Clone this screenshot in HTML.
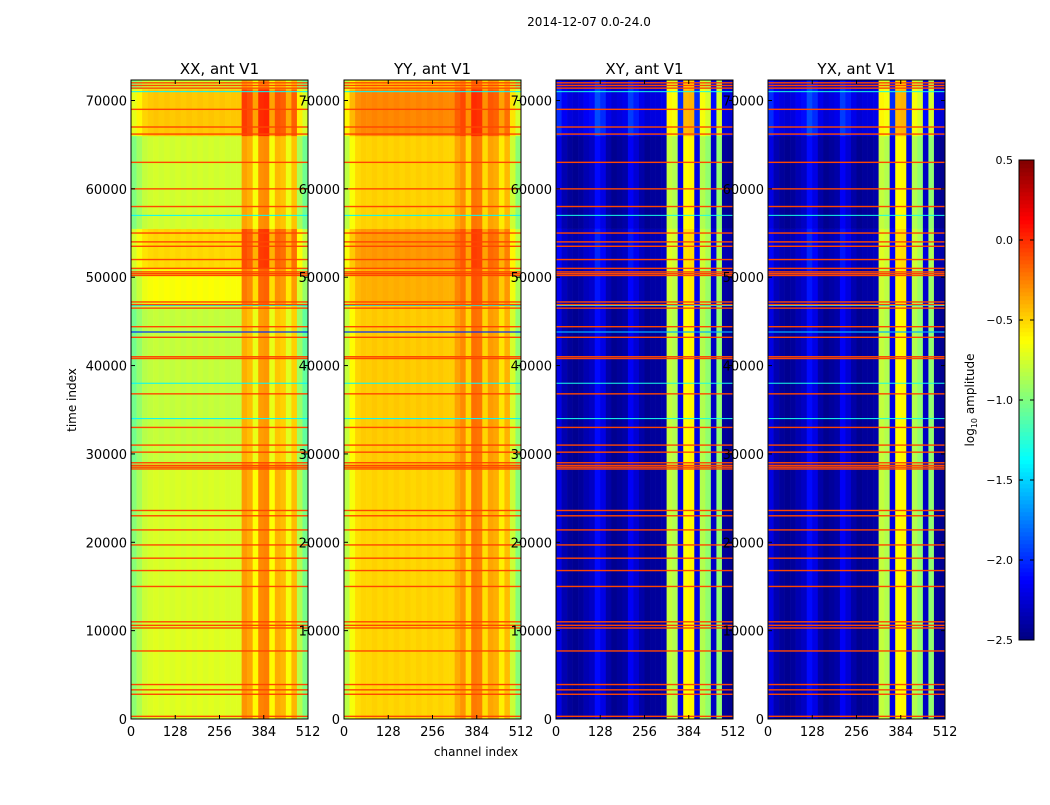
<!DOCTYPE html>
<html><head><meta charset="utf-8"><style>
body{margin:0;background:#fff;}
svg text{font-family:"DejaVu Sans","Liberation Sans",sans-serif;}
</style></head><body>
<svg id="fig" width="1050" height="800" viewBox="0 0 1050 800" xmlns="http://www.w3.org/2000/svg">
<rect width="1050" height="800" fill="#fff"/>
<text x="589" y="26" font-size="12" text-anchor="middle">2014-12-07 0.0-24.0</text>
<text x="476" y="756" font-size="12" text-anchor="middle">channel index</text>
<text transform="translate(76,400) rotate(-90)" font-size="12" text-anchor="middle">time index</text>
<g id="panels"></g>
<g id="cbar"></g>
</svg>
<script>
// ---- data ----
const panelTitles = ["XX, ant V1","YY, ant V1","XY, ant V1","YX, ant V1"];
const xTickLabels = [0,128,256,384,512];
const yTickLabels = [0,10000,20000,30000,40000,50000,60000,70000];
const cbarTicks = [-2.5,-2.0,-1.5,-1.0,-0.5,0.0,0.5];
// column profiles, 32 groups of 16 channels (log10 amplitude)
const xxCols = [-1.0,-0.9,-0.8,-0.77,-0.75,-0.77,-0.75,-0.77,-0.75,-0.77,-0.75,-0.77,-0.75,-0.77,-0.75,-0.77,-0.75,-0.77,-0.76,-0.76,-0.35,-0.4,-0.65,-0.3,-0.28,-0.65,-0.42,-0.45,-0.68,-0.45,-0.88,-1.05];
const yyCols = [-0.8,-0.62,-0.5,-0.47,-0.48,-0.46,-0.48,-0.46,-0.48,-0.46,-0.48,-0.46,-0.48,-0.46,-0.48,-0.46,-0.48,-0.46,-0.48,-0.48,-0.35,-0.28,-0.5,-0.2,-0.22,-0.5,-0.33,-0.36,-0.55,-0.4,-0.75,-0.95];
const xyCols = [-2.2,-2.35,-2.42,-2.45,-2.42,-2.35,-2.3,-2.1,-2.2,-2.38,-2.45,-2.42,-2.38,-2.15,-2.25,-2.38,-2.45,-2.42,-2.42,-2.38,-0.8,-0.85,-2.2,-0.62,-0.6,-2.2,-0.85,-0.95,-2.3,-0.95,-2.42,-2.45];
// time segments [start, end, offset]
const xxSegs = [[0,11000,0.04],[11000,29000,0.02],[29000,47000,-0.04],[47000,51000,0.12],[51000,55500,0.25],[55500,66000,0],[66000,71300,0.3],[71300,72320,0]];
const yySegs = [[0,11000,-0.03],[11000,29000,-0.03],[29000,47000,0],[47000,51000,0.08],[51000,55500,0.15],[55500,66000,-0.02],[66000,71300,0.2],[71300,72320,0]];
const xySegs = [[0,11000,0],[11000,29000,0],[29000,47000,0],[47000,51000,0.03],[51000,55500,0.08],[55500,66000,0],[66000,71300,0.2],[71300,72320,0.1]];
// flagged rows (time index) and row anomalies
const flagRows = [300,2800,3300,3900,7700,10300,10600,11000,15000,16800,18200,19700,21400,23000,23600,28300,28500,28700,29000,30200,31000,33000,36800,40800,41000,43200,44400,46500,46900,47200,50200,50400,50600,51000,52000,53500,54000,55000,58000,60000,63000,66200,67000,69000,71400,71700,72000];
const cyanRows = [34000,38000,46800,57000,71000];
const blueRows = [43800];
const pv = [xxCols,yyCols,xyCols,xyCols];
const ps = [xxSegs,yySegs,xySegs,xySegs];
const flagValue = -0.08;

// ---- helpers ----
function jet(v){
  let t=(v+2.5)/3; t=Math.max(0,Math.min(1,t));
  const f=(x)=>Math.max(0,Math.min(1,1.5-Math.abs(4*t-x)));
  const r=f(3),g=f(2),b=f(1);
  return `rgb(${Math.round(r*255)},${Math.round(g*255)},${Math.round(b*255)})`;
}
const NS="http://www.w3.org/2000/svg";
function mk(tag,attrs,parent){const e=document.createElementNS(NS,tag);for(const k in attrs)e.setAttribute(k,attrs[k]);parent.appendChild(e);return e;}
const lefts=[131,344,556,768], PW=177, TOP=80, BOT=719, YMAX=72320;
const ys=(t)=>BOT-(t/YMAX)*(BOT-TOP);
const root=document.getElementById('panels');
const textLayer=[];
lefts.forEach((L,pi)=>{
  const xs=(c)=>L+(c/512)*PW;
  const g=mk('g',{},root);
  
  
  const cols=pv[pi];
  ps[pi].forEach(s=>{
    cols.forEach((v,ci)=>{
      const r=mk('rect',{x:xs(ci*16),y:ys(s[1]),width:xs((ci+1)*16)-xs(ci*16)+0.3,height:ys(s[0])-ys(s[1])+0.3,fill:jet(v+s[2])},g);
      
      
    });
  });
  const isCross=pi>=2;
  cyanRows.forEach(t=>{const l=mk('rect',{x:L,y:ys(t)-0.5,width:PW,height:1,fill:isCross?jet(-1.3):jet(-1.4)},g);
    });
  blueRows.forEach(t=>{const l=mk('rect',{x:L,y:ys(t)-0.6,width:PW,height:1.2,fill:isCross?jet(-1.6):jet(-2.0)},g);
    });
  flagRows.forEach(t=>{const l=mk('rect',{x:L,y:ys(t)-0.7,width:PW,height:1.4,fill:jet(flagValue)},g);
    });
  mk('rect',{x:L,y:TOP,width:PW,height:BOT-TOP,fill:'none',stroke:'#000','stroke-width':1},g);
  xTickLabels.forEach(c=>{
    const x=xs(c);
    mk('line',{x1:x,y1:BOT,x2:x,y2:BOT-4,stroke:'#000'},g);
    mk('line',{x1:x,y1:TOP,x2:x,y2:TOP+4,stroke:'#000'},g);
    textLayer.push(['x',x,BOT+17,c]);
  });
  yTickLabels.forEach(t=>{
    const y=ys(t);
    mk('line',{x1:L,y1:y,x2:L+4,y2:y,stroke:'#000'},g);
    mk('line',{x1:L+PW,y1:y,x2:L+PW-4,y2:y,stroke:'#000'},g);
    textLayer.push(['y',L-4,y+5,t]);
  });
  const tt=mk('text',{x:L+PW/2,y:74,'font-size':15,'text-anchor':'middle'},g);
  
  
  tt.textContent=panelTitles[pi];
});
const tg=mk('g',{},root);


textLayer.forEach(a=>{
  const t=mk('text',{x:a[1],y:a[2],'font-size':13,'text-anchor':a[0]==='x'?'middle':'end'},tg);
  
  
  t.textContent=a[3];
});
// colorbar
const cb=document.getElementById('cbar');
const CX=1019,CW=15,CT=160,CB=640;
const cys=(v)=>CB-((v+2.5)/3)*(CB-CT);
for(let i=0;i<120;i++){
  const v0=-2.5+3*i/120,v1=-2.5+3*(i+1)/120;
  const r=mk('rect',{x:CX,y:cys(v1),width:CW,height:cys(v0)-cys(v1)+0.3,fill:jet((v0+v1)/2)},cb);
  
  
}
mk('rect',{x:CX,y:CT,width:CW,height:CB-CT,fill:'none',stroke:'#000'},cb);
cbarTicks.forEach(v=>{
  const y=cys(v);
  mk('line',{x1:CX,y1:y,x2:CX+4,y2:y,stroke:'#000'},cb);
  mk('line',{x1:CX+CW,y1:y,x2:CX+CW-4,y2:y,stroke:'#000'},cb);
  const t=mk('text',{x:CX-6,y:y+4,'font-size':11,'text-anchor':'end'},cb);
  
  
  t.textContent=(v<0?'\u2212':'')+Math.abs(v).toFixed(1);
});
const cl=mk('text',{transform:'translate(974,400) rotate(-90)','font-size':12,'text-anchor':'middle'},cb);


cl.innerHTML='log<tspan font-size="8" dy="3">10</tspan><tspan dy="-3"> amplitude</tspan>';
</script>
</body></html>
